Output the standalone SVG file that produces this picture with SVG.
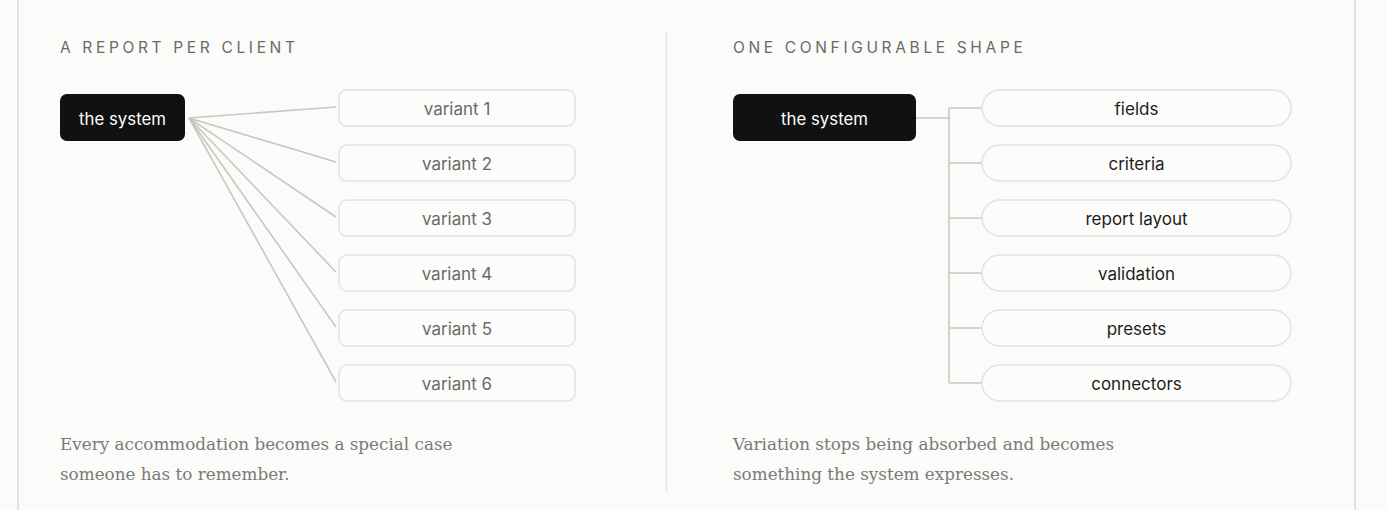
<svg xmlns="http://www.w3.org/2000/svg" width="1386" height="510" viewBox="0 0 1386 510">
<style>
.bg{fill:#fbfbf9}
.frame{stroke:#e4e4e0;stroke-width:2;fill:none}
.head{font-family:Inter,"Liberation Sans",sans-serif;font-size:15.5px;letter-spacing:3.65px;fill:#6a6a66}
.dark{fill:#111111}
.darkt{font-family:Inter,"Liberation Sans",sans-serif;font-size:16.8px;fill:#ffffff;text-anchor:middle}
.vbox{fill:#fcfcfa;stroke:#e2e2de;stroke-width:1.5}
.vt{font-family:Inter,"Liberation Sans",sans-serif;font-size:17px;fill:#6a6a66;text-anchor:middle}
.pt{font-family:Inter,"Liberation Sans",sans-serif;font-size:17px;fill:#1c1c1c;text-anchor:middle}
.conn{stroke:#c8c8c3;stroke-width:1.6;fill:none}
.cap{font-family:"DejaVu Serif","Liberation Serif",serif;font-size:16.8px;fill:#7a7a76}
</style>
<rect class="bg" x="0" y="0" width="1386" height="510"/>
<line class="frame" x1="18" y1="0" x2="18" y2="510"/>
<line class="frame" x1="1355" y1="0" x2="1355" y2="510"/>
<line x1="666.5" y1="32" x2="666.5" y2="491" stroke="#e4e4e0" stroke-width="1.5"/>

<text class="head" x="60" y="53">A REPORT PER CLIENT</text>
<text class="head" x="733" y="53">ONE CONFIGURABLE SHAPE</text>

<g id="connectors">
<line class="conn" x1="189" y1="118" x2="336" y2="107"/>
<line class="conn" x1="189" y1="118" x2="336" y2="162"/>
<line class="conn" x1="189" y1="118" x2="336" y2="217"/>
<line class="conn" x1="189" y1="118" x2="336" y2="272"/>
<line class="conn" x1="189" y1="118" x2="336" y2="327"/>
<line class="conn" x1="189" y1="118" x2="336" y2="382"/>
<path class="conn" d="M916 118H949M949 108V383M949 108H983M949 163H983M949 218H983M949 273H983M949 328H983M949 383H983"/>
</g>

<g id="system-left">
<rect class="dark" x="60" y="94" width="125" height="47" rx="7"/>
<text class="darkt" x="122.5" y="124.5">the system</text>
</g>
<g id="variant-1"><rect class="vbox" x="339" y="90" width="236" height="36" rx="8"/><text class="vt" x="457" y="114.5">variant 1</text></g>
<g id="variant-2"><rect class="vbox" x="339" y="145" width="236" height="36" rx="8"/><text class="vt" x="457" y="169.5">variant 2</text></g>
<g id="variant-3"><rect class="vbox" x="339" y="200" width="236" height="36" rx="8"/><text class="vt" x="457" y="224.5">variant 3</text></g>
<g id="variant-4"><rect class="vbox" x="339" y="255" width="236" height="36" rx="8"/><text class="vt" x="457" y="279.5">variant 4</text></g>
<g id="variant-5"><rect class="vbox" x="339" y="310" width="236" height="36" rx="8"/><text class="vt" x="457" y="334.5">variant 5</text></g>
<g id="variant-6"><rect class="vbox" x="339" y="365" width="236" height="36" rx="8"/><text class="vt" x="457" y="389.5">variant 6</text></g>

<g id="system-right">
<rect class="dark" x="733" y="94" width="183" height="47" rx="7"/>
<text class="darkt" x="824.5" y="124.5">the system</text>
</g>
<g id="fields"><rect class="vbox" x="982" y="90" width="309" height="36" rx="18"/><text class="pt" x="1136.5" y="114.5">fields</text></g>
<g id="criteria"><rect class="vbox" x="982" y="145" width="309" height="36" rx="18"/><text class="pt" x="1136.5" y="169.5">criteria</text></g>
<g id="report-layout"><rect class="vbox" x="982" y="200" width="309" height="36" rx="18"/><text class="pt" x="1136.5" y="224.5">report layout</text></g>
<g id="validation"><rect class="vbox" x="982" y="255" width="309" height="36" rx="18"/><text class="pt" x="1136.5" y="279.5">validation</text></g>
<g id="presets"><rect class="vbox" x="982" y="310" width="309" height="36" rx="18"/><text class="pt" x="1136.5" y="334.5">presets</text></g>
<g id="connectors-node"><rect class="vbox" x="982" y="365" width="309" height="36" rx="18"/><text class="pt" x="1136.5" y="389.5">connectors</text></g>

<text class="cap" x="60" y="450">Every accommodation becomes a special case</text>
<text class="cap" x="60" y="480">someone has to remember.</text>
<text class="cap" x="733" y="450">Variation stops being absorbed and becomes</text>
<text class="cap" x="733" y="480">something the system expresses.</text>
</svg>
